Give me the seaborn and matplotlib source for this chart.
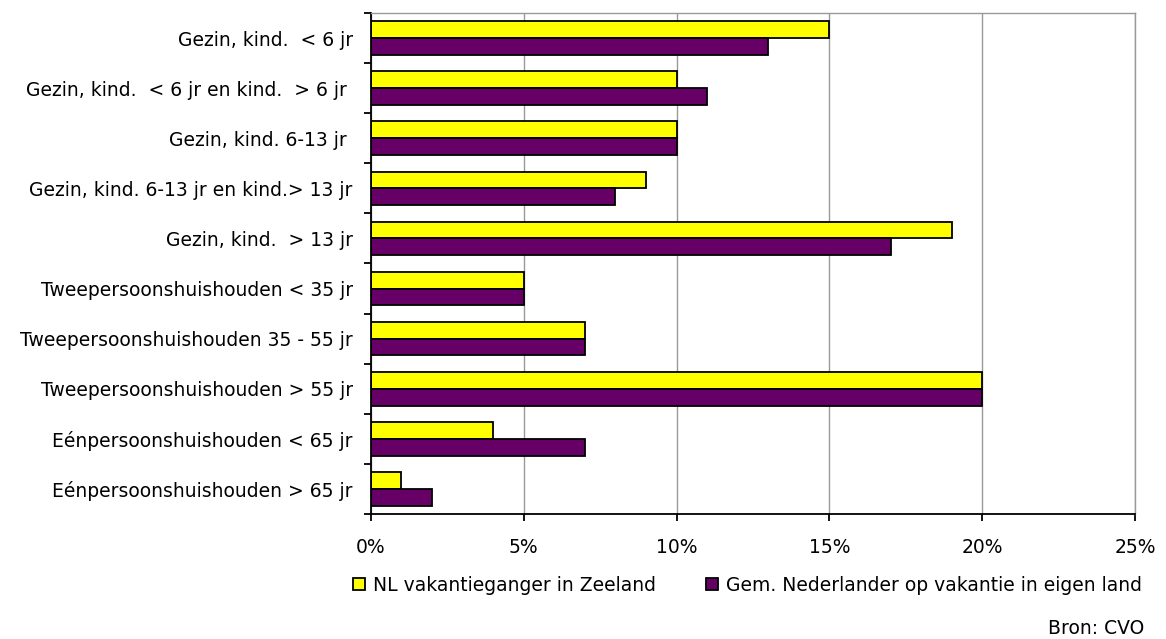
import numpy as np
import pandas as pd
import matplotlib
matplotlib.use('Agg')
import matplotlib.pyplot as plt
import seaborn as sns
from matplotlib.ticker import PercentFormatter

# Data
categories = [
    'Gezin, kind.  < 6 jr',
    'Gezin, kind.  < 6 jr en kind.  > 6 jr ',
    'Gezin, kind. 6-13 jr ',
    'Gezin, kind. 6-13 jr en kind.> 13 jr',
    'Gezin, kind.  > 13 jr',
    'Tweepersoonshuishouden < 35 jr',
    'Tweepersoonshuishouden 35 - 55 jr',
    'Tweepersoonshuishouden > 55 jr',
    'Eénpersoonshuishouden < 65 jr',
    'Eénpersoonshuishouden > 65 jr',
]
series_names = ['NL vakantieganger in Zeeland', 'Gem. Nederlander op vakantie in eigen land']
zeeland = [15, 10, 10, 9, 19, 5, 7, 20, 4, 1]
nederland = [13, 11, 10, 8, 17, 5, 7, 20, 7, 2]
colors = ['#FFFF00', '#660066']

df = pd.DataFrame({
    'categorie': categories * 2,
    'reeks': [series_names[0]] * len(categories) + [series_names[1]] * len(categories),
    'aandeel': zeeland + nederland,
})

sns.set_style("white")
plt.rcParams['font.family'] = ['DejaVu Sans']
plt.rcParams['text.color'] = 'black'
plt.rcParams['xtick.color'] = 'black'
plt.rcParams['ytick.color'] = 'black'

fs = 13.5

fig = plt.figure(figsize=(11.66, 6.39), dpi=100)
ax = fig.add_axes([0.318, 0.1956, 0.6556, 0.7841])

sns.barplot(data=df, y='categorie', x='aandeel', hue='reeks', order=categories,
            hue_order=series_names, palette=colors, saturation=1, orient='h', width=0.67,
            edgecolor='black', linewidth=1.3, ax=ax, legend=True)

ax.set_xlim(0, 25)
ax.set_ylim(len(categories) - 0.5, -0.5)
ax.set_xticks(np.arange(0, 26, 5))
ax.xaxis.set_major_formatter(PercentFormatter(decimals=0))
ax.xaxis.grid(True, color='#999999', linewidth=1)
ax.set_axisbelow(True)
ax.set_xlabel('')
ax.set_ylabel('')

# category tick marks at the group boundaries
ax.set_yticks(np.arange(-0.5, len(categories), 1), minor=True)
ax.tick_params(axis='y', which='major', length=0, pad=13, labelsize=fs)
ax.tick_params(axis='y', which='minor', length=5, width=1.3, direction='out', left=True)
ax.tick_params(axis='x', length=5, width=1.3, direction='out', bottom=True, pad=12, labelsize=fs)

for side in ['top', 'right']:
    ax.spines[side].set_color('#999999')
    ax.spines[side].set_linewidth(1)
for side in ['left', 'bottom']:
    ax.spines[side].set_color('black')
    ax.spines[side].set_linewidth(1.3)

handles, labels = ax.get_legend_handles_labels()
ax.get_legend().remove()
fig.legend(handles, labels, loc='center', bbox_to_anchor=(0.641, 0.0845), ncol=2,
           frameon=False, fontsize=fs, handlelength=0.65, handleheight=0.65,
           handletextpad=0.4, columnspacing=2.7)

fig.text(0.981, 0.017, 'Bron: CVO', ha='right', va='center', fontsize=fs)

plt.savefig('out.png', dpi=100)
